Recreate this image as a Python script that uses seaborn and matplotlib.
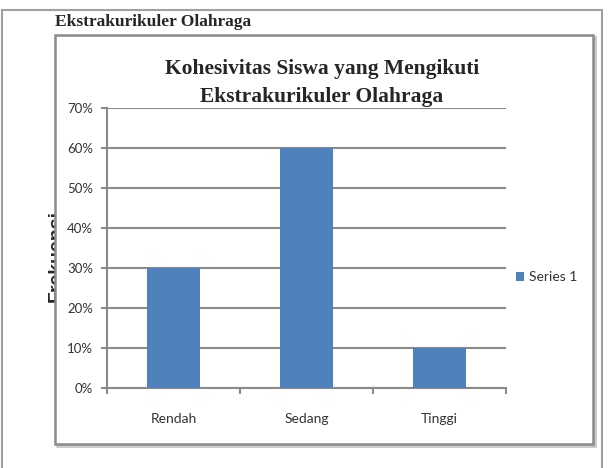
import matplotlib
matplotlib.use("Agg")
import matplotlib.pyplot as plt
import seaborn as sns
import pandas as pd
from matplotlib.patches import Rectangle, Patch
from matplotlib.ticker import FuncFormatter

categories = ["Rendah", "Sedang", "Tinggi"]
values = [0.30, 0.60, 0.10]
series_name = "Series 1"
yticks = [0.0, 0.1, 0.2, 0.3, 0.4, 0.5, 0.6, 0.7]
page_heading = "Ekstrakurikuler Olahraga"
chart_title = "Kohesivitas Siswa yang Mengikuti\nEkstrakurikuler Olahraga"
y_label = "Frekuensi"

W, H = 610, 468
sns.set_theme(style="white")
plt.rcParams["font.family"] = ["Lato", "DejaVu Sans"]

fig = plt.figure(figsize=(W / 100, H / 100), dpi=100)
fig.patch.set_facecolor("white")

def fx(x):
    return x / W

def fy(y):
    return 1 - y / H

grey = "#8a8a8a"
txt = "#333333"

# outer page border
fig.patches.append(Rectangle((fx(1.5), fy(480)), fx(600.5), fy(10) - fy(480),
                             transform=fig.transFigure, fill=False,
                             edgecolor="#a0a0a0", linewidth=1.5, zorder=1))

# page heading
fig.text(fx(55), fy(22), page_heading, family="Liberation Serif",
         fontweight="bold", fontsize=12.5, ha="left", va="center", zorder=3)

# partially hidden y label
fig.text(fx(56), fy(256), y_label, family="Liberation Sans", fontweight="bold",
         fontsize=14, rotation=90, ha="center", va="center", zorder=3)

# chart frame (shadow + frame), covers part of the label
fig.patches.append(Rectangle((fx(57), fy(446)), fx(538), fy(37) - fy(446),
                             transform=fig.transFigure, facecolor="none",
                             edgecolor="#c8c8c8", linewidth=2, zorder=4))
fig.patches.append(Rectangle((fx(55), fy(444)), fx(538), fy(35) - fy(444),
                             transform=fig.transFigure, facecolor="white",
                             edgecolor=grey, linewidth=1.8, zorder=4))

ax = fig.add_axes([fx(107), fy(388), fx(505.7 - 107), fy(108) - fy(388)])
ax.set_zorder(5)

df = pd.DataFrame({"cat": categories, "val": values})
sns.barplot(data=df, x="cat", y="val", color="#4F81BD", width=0.4,
            saturation=1, ax=ax, zorder=3, edgecolor="none", linewidth=0)

ax.set_xlim(-0.5, 2.5)
ax.set_ylim(0, 0.7)
ax.set_yticks(yticks)
ax.yaxis.set_major_formatter(FuncFormatter(lambda v, p: f"{v*100:.0f}%"))
ax.grid(axis="y", color=grey, linewidth=1.5, zorder=0)
ax.set_axisbelow(True)
for s in ["top", "right"]:
    ax.spines[s].set_visible(False)
for s in ["left", "bottom"]:
    ax.spines[s].set_color(grey)
    ax.spines[s].set_linewidth(1.5)

ax.tick_params(axis="y", which="major", left=True, length=4, width=1.5,
               color=grey, pad=6, labelsize=9.5, labelcolor=txt)
ax.set_xticks([-0.5, 0.5, 1.5, 2.5], minor=True)
ax.tick_params(axis="x", which="minor", bottom=True, length=4, width=1.5, color=grey)
ax.tick_params(axis="x", which="major", bottom=False, length=0, pad=18,
               labelsize=10, labelcolor=txt)
ax.set_xlabel("")
ax.set_ylabel("")

ax.legend(handles=[Patch(facecolor="#4F81BD", edgecolor="none", label=series_name)],
          loc="center left", bbox_to_anchor=(fx(516), fy(277)),
          bbox_transform=fig.transFigure, frameon=False, fontsize=10,
          labelcolor=txt, handlelength=0.6, handleheight=0.6, handletextpad=0.35,
          borderpad=0, borderaxespad=0)

fig.text(fx(322), fy(83), chart_title, family="Liberation Serif",
         fontweight="bold", fontsize=15.5, ha="center", va="center",
         linespacing=1.5, zorder=6)

fig.savefig("out.png", dpi=100, facecolor="white")
